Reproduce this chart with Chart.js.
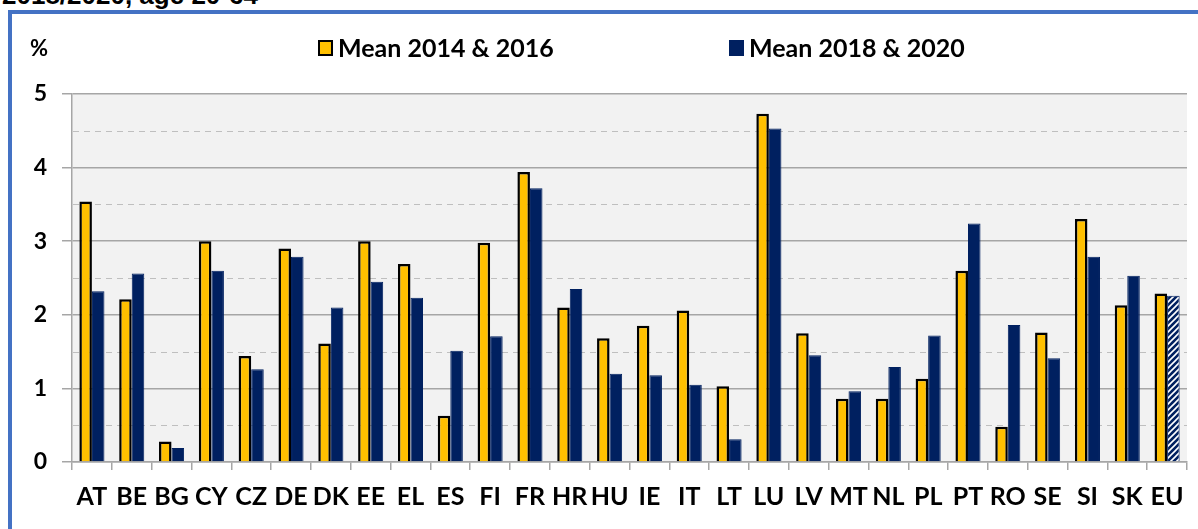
<!DOCTYPE html>
<html>
<head>
<meta charset="utf-8">
<script src="https://cdn.jsdelivr.net/npm/chart.js@4.4.0/dist/chart.umd.min.js"></script>
<style>
  html, body { margin: 0; padding: 0; background: #fff; width: 1198px; height: 529px; overflow: hidden; position: relative; }
  #heading { position: absolute; left: 2px; top: -18px; font: bold 26px "Liberation Sans", Arial, sans-serif; line-height: 26px; white-space: nowrap; color: #000; }
  #frame { position: absolute; left: 8px; top: 10px; width: 1220px; height: 560px; border: 4px solid #4472C4; box-sizing: border-box; }
  #wrap { position: absolute; left: 0; top: 0; width: 1198px; height: 529px; }
</style>
</head>
<body>
<div id="heading">2018/2020, age 20-64</div>
<div id="frame"></div>
<div id="wrap"><canvas id="myChart"></canvas></div>
<script>
const countries = ['AT','BE','BG','CY','CZ','DE','DK','EE','EL','ES','FI','FR','HR','HU','IE','IT','LT','LU','LV','MT','NL','PL','PT','RO','SE','SI','SK','EU'];
const mean1416 = [3.54,2.21,0.28,3.00,1.44,2.90,1.61,3.00,2.69,0.63,2.98,3.94,2.10,1.68,1.85,2.06,1.03,4.73,1.75,0.86,0.86,1.13,2.60,0.48,1.76,3.30,2.13,2.29];
const mean1820 = [2.32,2.56,0.19,2.60,1.26,2.79,2.10,2.45,2.23,1.51,1.71,3.72,2.35,1.20,1.18,1.05,0.31,4.53,1.45,0.96,1.29,1.72,3.24,1.86,1.41,2.79,2.53,2.26];
const seriesNames = ['Mean 2014 & 2016', 'Mean 2018 & 2020'];
const yMin = 0, yMax = 5;

const YELLOW = '#FFC000';
const NAVY = '#002060';
const GRID = '#A6A6A6';
const FONT = 'Lato, "Liberation Sans", Arial, sans-serif';

// hatched fill for the EU bar
const pc = document.createElement('canvas');
pc.width = 6; pc.height = 6;
const pctx = pc.getContext('2d');
pctx.fillStyle = NAVY;
pctx.fillRect(0, 0, 6, 6);
pctx.strokeStyle = '#fff';
pctx.lineWidth = 1.6;
pctx.beginPath();
pctx.moveTo(-1, 7); pctx.lineTo(7, -1);
pctx.moveTo(-4, 4); pctx.lineTo(4, -4);
pctx.moveTo(2, 10); pctx.lineTo(10, 2);
pctx.stroke();
const hatch = pctx.createPattern(pc, 'repeat');

const plotArea = {
  id: 'plotArea',
  beforeDraw(chart) {
    const {ctx, chartArea: a} = chart;
    ctx.save();
    ctx.fillStyle = '#F2F2F2';
    ctx.fillRect(a.left, a.top, a.right - a.left, a.bottom - a.top);
    ctx.restore();
  },
  beforeDatasetsDraw(chart) {
    const {ctx, chartArea: a, scales: {y}} = chart;
    ctx.save();
    ctx.strokeStyle = '#BFBFBF';
    ctx.lineWidth = 1;
    ctx.setLineDash([6, 5]);
    for (let v = yMin + 0.5; v < yMax; v += 1) {
      const py = Math.round(y.getPixelForValue(v)) + 0.5;
      ctx.beginPath();
      ctx.moveTo(a.left + 1, py);
      ctx.lineTo(a.right, py);
      ctx.stroke();
    }
    ctx.restore();
  },
  afterDraw(chart) {
    const ctx = chart.ctx;
    ctx.save();
    ctx.fillStyle = '#000';
    ctx.font = 'bold 22px ' + FONT;
    ctx.textBaseline = 'middle';
    ctx.textAlign = 'left';
    ctx.fillText('%', 30, 49);

    // legend
    const items = [
      {x: 318, fill: YELLOW, stroke: '#000'},
      {x: 729, fill: NAVY, stroke: NAVY}
    ];
    ctx.font = 'bold 25px ' + FONT;
    items.forEach((it, i) => {
      ctx.fillStyle = it.stroke;
      ctx.fillRect(it.x, 40, 15, 16);
      ctx.fillStyle = it.fill;
      ctx.fillRect(it.x + 2, 42, 11, 12);
      ctx.fillStyle = '#000';
      ctx.fillText(chart.data.datasets[i].label, it.x + 20, 49);
    });
    ctx.restore();
  }
};

const ctx = document.getElementById('myChart');
const myChart = new Chart(ctx, {
  type: 'bar',
  data: {
    labels: countries,
    datasets: [
      {
        label: seriesNames[0],
        data: mean1416,
        backgroundColor: YELLOW,
        borderColor: '#000',
        borderWidth: 2.5,
        borderSkipped: 'bottom',
        barPercentage: 1,
        categoryPercentage: 0.63
      },
      {
        label: seriesNames[1],
        data: mean1820,
        backgroundColor: (c) => c.dataIndex === countries.length - 1 ? hatch : NAVY,
        borderColor: NAVY,
        borderWidth: 1,
        borderSkipped: 'bottom',
        barPercentage: 1,
        categoryPercentage: 0.63
      }
    ]
  },
  options: {
    responsive: true,
    maintainAspectRatio: false,
    animation: false,
    layout: { padding: { top: 94, right: 11, bottom: 0, left: 0 } },
    plugins: {
      legend: { display: false },
      tooltip: { enabled: false }
    },
    scales: {
      x: {
        grid: { drawOnChartArea: false, drawTicks: true, tickLength: 8, color: GRID, lineWidth: 1.5 },
        border: { color: GRID, width: 1.5 },
        ticks: { color: '#000', font: { family: FONT, size: 25, weight: 'bold' }, padding: 12, maxRotation: 0, autoSkip: false },
        afterFit(scale) { scale.height = 67; }
      },
      y: {
        min: yMin,
        max: yMax,
        grid: { color: GRID, lineWidth: 1.5, tickLength: 10 },
        border: { color: GRID, width: 1.5 },
        ticks: { stepSize: 1, color: '#000', font: { family: FONT, size: 23, weight: 'bold' }, padding: 15 },
        afterFit(scale) { scale.width = 72; }
      }
    }
  },
  plugins: [plotArea]
});
</script>
</body>
</html>
